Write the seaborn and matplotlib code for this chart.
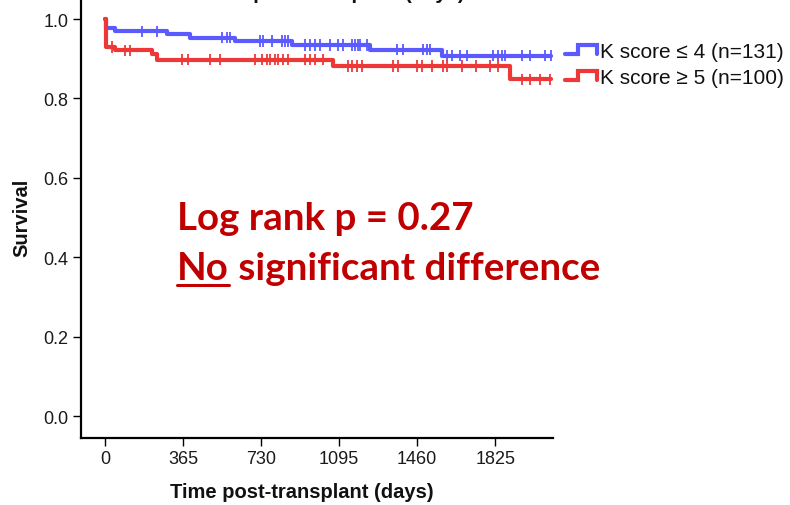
import numpy as np
import pandas as pd
import matplotlib
matplotlib.use("Agg")
import matplotlib.pyplot as plt
import seaborn as sns
from matplotlib.lines import Line2D

# Kaplan-Meier step data per K score group
group_labels = ["K score \u2264 4 (n=131)", "K score \u2265 5 (n=100)"]
group_colors = ["#5A5AFF", "#EE3838"]

low_event_days = [0, 7, 47, 290, 398, 608, 875, 1240, 1577, 2085]
low_survival = [1.0, 0.977, 0.969, 0.961, 0.953, 0.945, 0.935, 0.923, 0.908, 0.908]
low_censor_days = [173, 243, 547, 571, 585, 725, 739, 781, 828, 842, 856, 936,
                   959, 983, 1006, 1053, 1090, 1114, 1156, 1170, 1184, 1193,
                   1226, 1366, 1394, 1488, 1507, 1521, 1600, 1624, 1661, 1694,
                   1815, 1839, 1858, 1872, 1951, 1989, 2059, 2085]

high_event_days = [0, 7, 47, 220, 243, 1067, 1895, 2085]
high_survival = [1.0, 0.930, 0.921, 0.911, 0.898, 0.882, 0.848, 0.848]
high_censor_days = [33, 94, 117, 360, 388, 491, 538, 702, 735, 758, 772, 795,
                    809, 833, 856, 936, 959, 983, 1020, 1137, 1156, 1179, 1203,
                    1348, 1371, 1460, 1483, 1530, 1582, 1600, 1670, 1736, 1801,
                    1839, 1951, 1989, 2035, 2082]

x_ticks = [0, 365, 730, 1095, 1460, 1825]
y_ticks = [0.0, 0.2, 0.4, 0.6, 0.8, 1.0]

x_label = "Time post-transplant (days)"
y_label = "Survival"
test_line = "Log rank p = 0.27"
concl_word = "No"
concl_rest = " significant difference"

sns.set_theme(style="ticks")
plt.rcParams["font.family"] = ["Liberation Sans", "DejaVu Sans"]

W, H = 790, 506
fig = plt.figure(figsize=(W / 100, H / 100), dpi=100)
ax = fig.add_axes([81 / W, 1 - 439 / H, 472 / W, 439 / H])

steps = pd.concat([
    pd.DataFrame({"day": low_event_days, "surv": low_survival, "group": group_labels[0]}),
    pd.DataFrame({"day": high_event_days, "surv": high_survival, "group": group_labels[1]}),
])
palette = dict(zip(group_labels, group_colors))

sns.lineplot(data=steps, x="day", y="surv", hue="group", palette=palette,
             estimator=None, drawstyle="steps-post", linewidth=3.0,
             legend=False, ax=ax, zorder=3)


def step_value(days, ev_days, surv):
    idx = np.searchsorted(np.asarray(ev_days), np.asarray(days), side="right") - 1
    return np.asarray(surv)[idx]


cens = pd.concat([
    pd.DataFrame({"day": low_censor_days,
                  "surv": step_value(low_censor_days, low_event_days, low_survival),
                  "group": group_labels[0]}),
    pd.DataFrame({"day": high_censor_days,
                  "surv": step_value(high_censor_days, high_event_days, high_survival),
                  "group": group_labels[1]}),
])
sns.scatterplot(data=cens, x="day", y="surv", hue="group", palette=palette,
                marker="|", s=70, linewidth=1.3, legend=False, ax=ax, zorder=4)

ax.set_xlim(-112, 2095)
ax.set_ylim(-0.0554, 1.0504)
ax.set_xticks(x_ticks)
ax.set_xticklabels([str(t) for t in x_ticks])
ax.set_yticks(y_ticks)
ax.set_yticklabels([f"{t:.1f}" for t in y_ticks])
sns.despine(ax=ax)
for side in ("left", "bottom"):
    ax.spines[side].set_linewidth(1.6)
    ax.spines[side].set_color("black")
ax.tick_params(axis="both", direction="out", length=6, width=1.0, color="black",
               labelsize=13, labelcolor="#1a1a1a", pad=3)

ax.set_xlabel(x_label, fontsize=14.5, fontweight="bold", color="#111111", va="top")
ax.set_ylabel(y_label, fontsize=14.5, fontweight="bold", color="#111111")
ax.xaxis.set_label_coords((302 - 81) / 472, -(483 - 439) / 439)
ax.yaxis.set_label_coords(-(81 - 31) / 472, (439 - 218) / 439)

# Cropped heading along the top edge
fig.text(333 / W, 1 + 0.5 / H, x_label, fontsize=14.5, fontweight="bold",
         color="#111111", ha="center", va="baseline")

# Legend with step-shaped glyphs
for i, (lab, col) in enumerate(zip(group_labels, group_colors)):
    yb = 55 + i * 26
    xs = np.array([565, 578, 578, 597, 597]) / W
    ys = 1 - np.array([yb, yb, yb - 9, yb - 9, yb]) / H
    fig.add_artist(Line2D(xs, ys, transform=fig.transFigure, color=col,
                          linewidth=3.0, solid_joinstyle="miter"))
    fig.text(600 / W, 1 - (yb - 3) / H, lab, fontsize=15, color="#111111",
             ha="left", va="center")

# Log-rank annotation
red = "#C00000"
ann_kw = dict(fontsize=27.7, fontweight="bold", family=["Lato", "DejaVu Sans"],
              color=red, va="baseline", ha="left")
fig.text(177 / W, 1 - 230 / H, test_line, **ann_kw)
t_no = fig.text(177 / W, 1 - 280 / H, concl_word, **ann_kw)
renderer = fig.canvas.get_renderer()
bb = t_no.get_window_extent(renderer)
fig.text(bb.x1 / W, 1 - 280 / H, concl_rest, **ann_kw)
fig.add_artist(Line2D([bb.x0 / W, bb.x1 / W], [1 - 286 / H, 1 - 286 / H],
                      transform=fig.transFigure, color=red, linewidth=2.2))

fig.savefig("out.png", dpi=100)
